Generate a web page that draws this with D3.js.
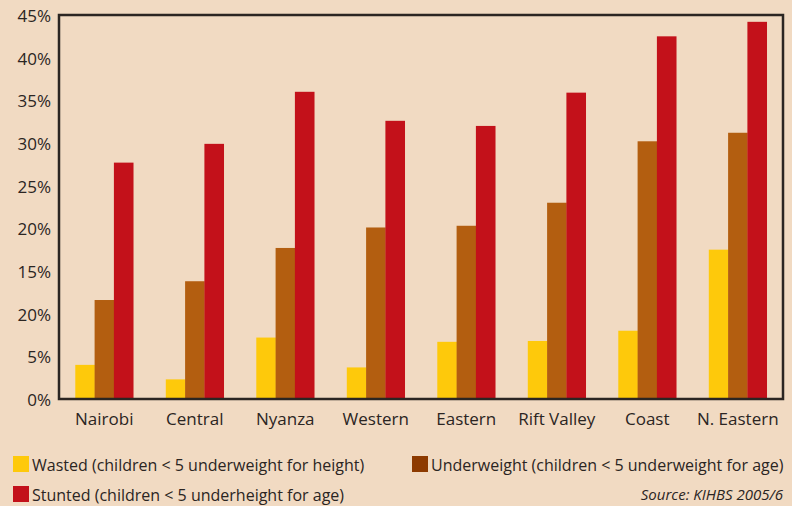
<!DOCTYPE html>
<html>
<head>
<meta charset="utf-8">
<script src="https://cdn.jsdelivr.net/npm/d3@7"></script>
<style>
  html, body { margin: 0; padding: 0; background: #f1dac2; }
  svg { display: block; font-family: "Open Sans", sans-serif; }
</style>
</head>
<body>
<svg width="792" height="506"></svg>
<script>
const regions = ["Nairobi", "Central", "Nyanza", "Western", "Eastern", "Rift Valley", "Coast", "N. Eastern"];
const series = ["wasted", "underweight", "stunted"];
const wasted = [4.0, 2.3, 7.2, 3.7, 6.7, 6.8, 8.0, 17.5];
const underweight = [11.6, 13.8, 17.7, 20.1, 20.3, 23.0, 30.2, 31.2];
const stunted = [27.7, 29.9, 36.0, 32.6, 32.0, 35.9, 42.5, 44.2];
const tickValues = [0, 5, 10, 15, 20, 25, 30, 35, 40, 45];
// the original has "20%" printed at the 10% mark
const tickLabels = ["0%", "5%", "20%", "15%", "20%", "25%", "30%", "35%", "40%", "45%"];
const legendLabels = [
  "Wasted (children < 5 underweight for height)",
  "Underweight (children < 5 underweight for age)",
  "Stunted (children < 5 underheight for age)"
];
const source = "Source: KIHBS 2005/6";

const values = { wasted, underweight, stunted };
const colors = { wasted: "#fec90b", underweight: "#b35e10", stunted: "#c3111a" };
const swatchColors = { wasted: "#fec90b", underweight: "#8d3a00", stunted: "#c3111a" };

const mLeft = 59, mRight = 783, mTop = 15, mBottom = 399;
const svg = d3.select("svg");

const x0 = d3.scaleBand()
  .domain(regions)
  .range([mLeft, mRight])
  .paddingInner(0.36)
  .paddingOuter(0.18);

const x1 = d3.scaleBand()
  .domain(series)
  .range([0, x0.bandwidth()]);

const y = d3.scaleLinear()
  .domain([0, 45])
  .range([mBottom, mTop]);

// bars
const groups = svg.append("g")
  .selectAll("g")
  .data(regions)
  .join("g")
  .attr("transform", d => `translate(${x0(d)},0)`);

groups.selectAll("rect")
  .data((d, i) => series.map(s => ({ key: s, value: values[s][i] })))
  .join("rect")
  .attr("x", d => x1(d.key))
  .attr("y", d => y(d.value))
  .attr("width", x1.bandwidth() + 0.3)
  .attr("height", d => y(0) - y(d.value))
  .attr("fill", d => colors[d.key]);

// frame
svg.append("rect")
  .attr("x", mLeft)
  .attr("y", mTop)
  .attr("width", mRight - mLeft)
  .attr("height", mBottom - mTop)
  .attr("fill", "none")
  .attr("stroke", "#2b2522")
  .attr("stroke-width", 2.5);

// y axis labels
const yAxis = d3.axisLeft(y)
  .tickValues(tickValues)
  .tickSize(0)
  .tickPadding(8)
  .tickFormat((d, i) => tickLabels[i]);

svg.append("g")
  .attr("transform", `translate(${mLeft},1)`)
  .call(yAxis)
  .call(g => g.select(".domain").remove())
  .selectAll("text")
  .attr("font-family", "Open Sans, sans-serif")
  .attr("font-size", 17)
  .attr("fill", "#2b2522");

// x axis labels
const xAxis = d3.axisBottom(x0).tickSize(0).tickPadding(14);

svg.append("g")
  .attr("transform", `translate(0,${mBottom})`)
  .call(xAxis)
  .call(g => g.select(".domain").remove())
  .selectAll("text")
  .attr("font-family", "Open Sans, sans-serif")
  .attr("font-size", 17)
  .attr("fill", "#2b2522");

// legend
const legendPos = [[13, 456], [412, 456], [13, 486]];
const legend = svg.append("g");
series.forEach((s, i) => {
  const [lx, ly] = legendPos[i];
  legend.append("rect")
    .attr("x", lx)
    .attr("y", ly)
    .attr("width", 16)
    .attr("height", 16)
    .attr("fill", swatchColors[s]);
  legend.append("text")
    .attr("x", lx + 19)
    .attr("y", ly + 15)
    .attr("font-size", 16)
    .attr("fill", "#2b2522")
    .text(legendLabels[i]);
});

svg.append("text")
  .attr("x", 783)
  .attr("y", 500)
  .attr("text-anchor", "end")
  .attr("font-size", 15)
  .attr("font-style", "italic")
  .attr("fill", "#2b2522")
  .text(source);
</script>
</body>
</html>
